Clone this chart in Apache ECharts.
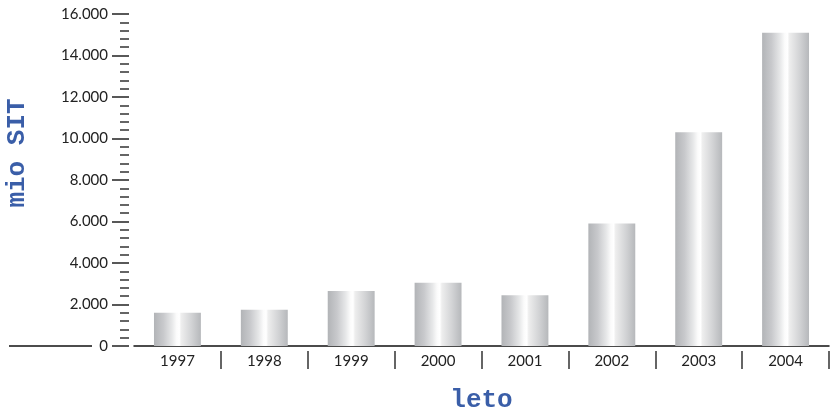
<!DOCTYPE html>
<html>
<head>
<meta charset="utf-8">
<script src="https://cdn.jsdelivr.net/npm/echarts@6/dist/echarts.min.js"></script>
<style>html,body{margin:0;padding:0;background:#fff}#c{width:835px;height:414px}</style>
</head>
<body>
<div id="c"></div>
<script>
const categories = ['1997','1998','1999','2000','2001','2002','2003','2004'];
const values = [1600, 1750, 2650, 3050, 2450, 5900, 10300, 15100];
const yTicks = {min: 0, max: 16000, interval: 2000};

const chart = echarts.init(document.getElementById('c'));
const fmt = v => v === 0 ? '0' : String(v).replace(/\B(?=(\d{3})+(?!\d))/g, '.');
const labelFont = 'Lato';
const barGrad = new echarts.graphic.LinearGradient(0, 0, 1, 0, [
  {offset: 0, color: '#b2b4b7'},
  {offset: 0.2, color: '#c8c9cc'},
  {offset: 0.38, color: '#e6e7e8'},
  {offset: 0.48, color: '#fbfbfb'},
  {offset: 0.54, color: '#ffffff'},
  {offset: 0.58, color: '#eeeeee'},
  {offset: 0.8, color: '#d2d3d5'},
  {offset: 1, color: '#b6b8bb'}
]);
chart.setOption({
  animation: false,
  grid: {left: 134, right: 6, top: 14, bottom: 68, containLabel: false, outerBoundsMode: 'none'},
  xAxis: [{
    type: 'category', data: categories, position: 'bottom',
    axisLine: {show: true, lineStyle: {color: '#111', width: 1.5}},
    axisTick: {show: false},
    axisLabel: {margin: 8, color: '#222', fontFamily: labelFont, fontSize: 15},
    name: 'leto', nameLocation: 'middle', nameGap: 41,
    nameTextStyle: {fontFamily: 'Liberation Mono', fontWeight: 'bold', fontSize: 26, color: '#3a5ea8'}
  }, {
    type: 'category', data: categories, position: 'bottom', offset: 5,
    axisLine: {show: false},
    axisTick: {show: true, length: 18, interval: (i) => i !== 0, lineStyle: {color: '#333', width: 1.5}},
    axisLabel: {show: false}
  }],
  yAxis: {
    type: 'value', min: yTicks.min, max: yTicks.max, interval: yTicks.interval, offset: 5,
    axisLine: {show: false},
    axisTick: {show: true, length: 17, lineStyle: {color: '#222', width: 1.5}},
    minorTick: {show: true, splitNumber: 5, length: 9, lineStyle: {color: '#333', width: 1.5}},
    splitLine: {show: false},
    axisLabel: {margin: 21, color: '#222', fontFamily: labelFont, fontSize: 15, formatter: fmt},
    name: 'mio SIT', nameLocation: 'middle', nameGap: 99, nameRotate: 90,
    nameTextStyle: {fontFamily: 'Liberation Mono', fontWeight: 'bold', fontSize: 26, color: '#3a5ea8', padding: [0, 0, 0, 54]}
  },
  graphic: [{
    type: 'line', shape: {x1: 9, y1: 346, x2: 92, y2: 346},
    style: {stroke: '#111', lineWidth: 1.5}
  }],
  series: [{
    type: 'bar', data: values, xAxisIndex: 0, barWidth: '54%',
    itemStyle: {color: barGrad}
  }]
});
</script>
</body>
</html>
